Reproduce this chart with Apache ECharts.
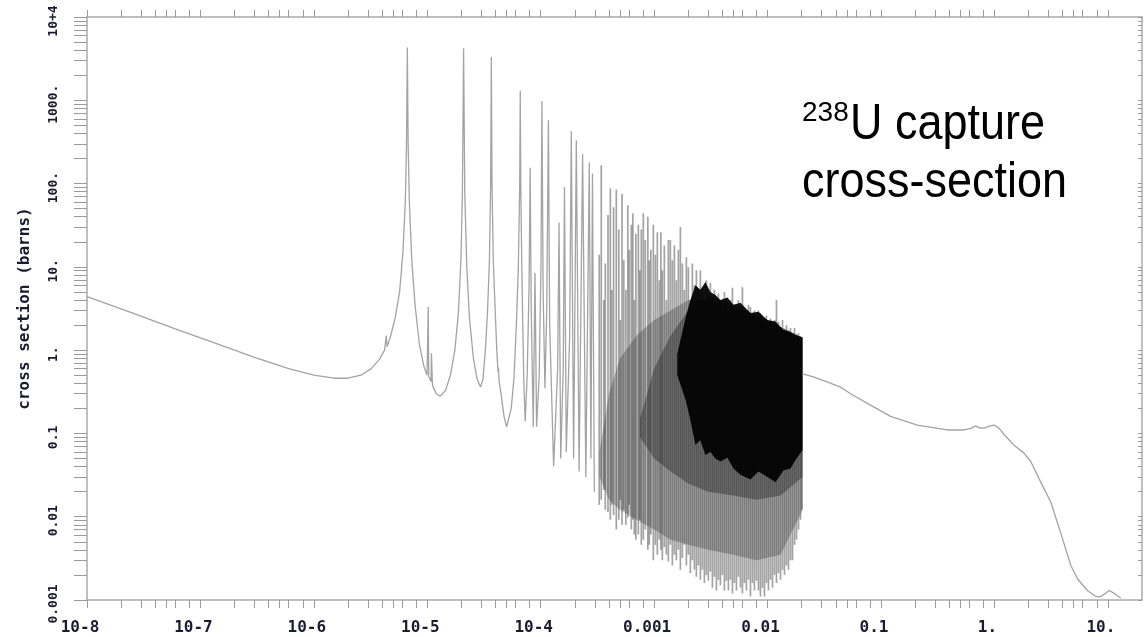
<!DOCTYPE html>
<html><head><meta charset="utf-8">
<script src="https://cdn.jsdelivr.net/npm/echarts@6/dist/echarts.min.js"></script>
<style>html,body{margin:0;padding:0;background:#fff}#c{width:1144px;height:637px}</style>
</head><body><div id="c"></div>
<script>
// ---- tick labels ----
const xTickExps = [-8,-7,-6,-5,-4,-3,-2,-1,0,1];
const xTickLabels = ['10-8','10-7','10-6','10-5','10-4','0.001','0.01','0.1','1.','10.'];
const yTickExps = [-3,-2,-1,0,1,2,3,4];
const yTickLabels = ['0.001','0.01','0.1','1.','10.','100.','1000.','10+4'];
const xMinorMant = [1,2,3,4,5,6,8];
const yMinorMant = [1,2,3,4,5,6,7,8,9];

// ---- low-energy curve with resolved resonances (E in MeV, sigma in barns) ----
const lowE = [1e-8,2.5e-8,6e-8,1e-7,2e-7,3e-7,6e-7,1e-6,1.5e-6,2e-6,2.6e-6,3.2e-6,3.8e-6,4.2e-6,4.35e-6,4.42e-6,4.7e-6,5.2e-6,5.7e-6,6.1e-6,6.4e-6,6.56e-6,6.67e-6,6.78e-6,6.95e-6,7.3e-6,7.8e-6,8.5e-6,9.3e-6,9.95e-6,10.2e-6,10.3e-6,10.8e-6,10.88e-6,11.1e-6,12e-6,13e-6,14.5e-6,16e-6,17.5e-6,18.8e-6,19.8e-6,20.4e-6,20.9e-6,21.4e-6,22.3e-6,23.5e-6,25.5e-6,27.5e-6,29.5e-6,31e-6,32.5e-6,34e-6,35.3e-6,36.2e-6,36.7e-6,37.2e-6,38.2e-6,39.5e-6,41e-6,42e-6,42.4e-6,43e-6,45e-6,47.5e-6,50e-6,52e-6,55e-6,58e-6,61e-6,63.5e-6,65.3e-6,66e-6,66.8e-6,68.5e-6,71e-6,73e-6,76e-6,79e-6,80.7e-6,82.5e-6,86e-6,89e-6,92e-6,97e-6,100.5e-6,102.5e-6,105e-6,109e-6,113e-6,116.9e-6,120e-6,130e-6,141e-6,145e-6,150e-6,158e-6,162e-6,168e-6,180e-6,186e-6,195e-6,206e-6,218e-6,234e-6,250e-6,268e-6,277e-6,286e-6,297e-6];
const lowSigma = [4.4,2.8,1.8,1.4,1.0,0.82,0.6,0.5,0.46,0.46,0.5,0.6,0.78,1.0,1.5,1.1,1.4,2.4,5,15,60,300,4300,300,60,12,3.5,1.2,0.65,0.5,3.3,0.48,0.42,0.92,0.38,0.3,0.28,0.33,0.5,1.0,2.8,12,80,4200,80,10,2.5,0.8,0.45,0.36,0.45,1.0,3,12,100,3300,100,12,3.5,1.0,0.55,0.62,0.42,0.28,0.16,0.12,0.12,0.2,0.45,2,10,100,1300,80,6,0.4,0.14,0.5,6,155,3,0.12,8.5,0.12,0.5,10,980,5,0.35,3,577,2,0.04,0.6,34,0.05,0.6,91,0.06,1.5,429,0.05,331,0.035,226,0.03,179,0.05,132,0.02];

// ---- dense resonance spikes: energy, peak, trough ----
const spikeE = [3.28e-4,3.42e-4,3.60e-4,3.71e-4,3.92e-4,4.11e-4,4.23e-4,4.39e-4,4.64e-4,4.88e-4,5.03e-4,5.21e-4,5.40e-4,5.63e-4,5.86e-4,6.04e-4,6.29e-4,6.49e-4,6.69e-4,6.90e-4,7.26e-4,7.48e-4,7.71e-4,8.03e-4,8.36e-4,8.80e-4,9.07e-4,9.35e-4,9.84e-4,1.025e-3,1.067e-3,1.111e-3,1.146e-3,1.181e-3,1.230e-3,1.282e-3,1.335e-3,1.390e-3,1.447e-3,1.508e-3,1.570e-3,1.635e-3,1.703e-3,1.774e-3,1.847e-3,1.924e-3,2.004e-3,2.087e-3,2.173e-3,2.263e-3,2.357e-3,2.455e-3,2.557e-3,2.663e-3,2.773e-3,2.888e-3,3.008e-3,3.133e-3,3.263e-3,3.398e-3,3.540e-3,3.686e-3,3.839e-3,3.998e-3,4.164e-3,4.336e-3,4.516e-3,4.704e-3,4.900e-3,5.102e-3,5.315e-3,5.535e-3,5.764e-3,6.003e-3,6.252e-3,6.511e-3,6.782e-3,7.063e-3,7.356e-3,7.660e-3,7.980e-3,8.310e-3,8.655e-3,9.015e-3,9.39e-3,9.78e-3,1.018e-2,1.061e-2,1.105e-2,1.151e-2,1.198e-2,1.248e-2,1.300e-2,1.354e-2,1.410e-2,1.468e-2,1.529e-2,1.593e-2,1.659e-2,1.728e-2,1.799e-2,1.874e-2,1.952e-2,2.012e-2];
const spikeTop = [14,166,4.0,11,42,88,5.3,52,85,28,2.3,75,12,5.3,55,16,32,44,4.0,25,32,9.1,28,44,21,40,12,16,32,14,26,6.9,26,9.1,18,4.0,21,21,12,18,6.9,16,30,11,5.3,13,9.9,4.0,11,6.0,9.1,5.3,9.1,5.6,4.0,6.9,4.6,6.4,4.0,5.3,3.5,4.8,4.0,3.0,5.0,4.0,3.0,4.0,5.6,3.5,3.0,4.0,2.9,5.7,3.0,2.6,3.5,3.3,2.6,3.0,2.4,3.0,2.8,2.3,2.4,2.6,2.2,2.4,2.0,2.3,4.0,2.2,1.9,2.3,1.8,2.0,1.74,1.85,1.6,1.85,1.55,1.6,1.47,1.42];
const spikeBot = [0.0139,0.016,0.021,0.0121,0.0114,0.0092,0.0139,0.0105,0.0070,0.0092,0.016,0.0080,0.0121,0.0080,0.0097,0.0139,0.0070,0.0092,0.0061,0.0053,0.0061,0.0092,0.0046,0.0053,0.0070,0.0040,0.0046,0.0061,0.0030,0.0046,0.0035,0.0053,0.0040,0.0030,0.0043,0.0035,0.0029,0.0046,0.0026,0.0035,0.0030,0.0040,0.0023,0.0032,0.0046,0.0026,0.0035,0.0021,0.0030,0.0023,0.0019,0.0026,0.00175,0.0023,0.0016,0.0020,0.0017,0.0022,0.0014,0.0019,0.0013,0.00175,0.0015,0.0020,0.0013,0.0017,0.0013,0.00175,0.0012,0.0016,0.0013,0.0019,0.0014,0.0012,0.0016,0.0013,0.00175,0.0011,0.0016,0.0013,0.0017,0.0013,0.0011,0.0014,0.0011,0.0016,0.0013,0.00175,0.0014,0.0020,0.0016,0.0021,0.00175,0.0023,0.0020,0.0026,0.0023,0.0030,0.0030,0.0046,0.0053,0.0070,0.0092,0.0121];

// ---- grey underlay of the dense region ----
const greyE = [3.3e-4,4.0e-4,5.0e-4,7.0e-4,1.0e-3,1.4e-3,2.0e-3,3.0e-3,5.0e-3,8.0e-3,1.3e-2,2.03e-2];
const greyTop = [0.06,0.3,0.8,1.5,2.3,3.0,4.0,4.0,3.5,2.6,1.9,1.42];
const greyBot = [0.03,0.016,0.012,0.0092,0.007,0.0053,0.0046,0.004,0.0035,0.003,0.0035,0.012];

// ---- dark-grey middle of the dense region ----
const darkE = [7.5e-4,1.0e-3,1.4e-3,2.0e-3,3.0e-3,5.0e-3,8.0e-3,1.3e-2,2.03e-2];
const darkTop = [0.15,0.6,1.5,3.0,4.5,3.5,2.6,1.9,1.42];
const darkBot = [0.09,0.05,0.035,0.025,0.02,0.018,0.016,0.018,0.03];

// ---- black core of the dense region ----
const coreE = [1.6e-3,1.9e-3,2.087e-3,2.310e-3,2.557e-3,2.830e-3,3.133e-3,3.468e-3,3.839e-3,4.425e-3,5.0e-3,5.764e-3,7.063e-3,8.31e-3,9.98e-3,1.174e-2,1.381e-2,1.593e-2,1.763e-2,2.03e-2];
const coreTop = [0.9,2.5,4.0,6.0,5.3,6.6,5.0,4.6,4.0,4.3,3.5,3.7,2.8,2.9,2.3,2.2,1.74,1.65,1.52,1.42];
const coreBot = [0.5,0.25,0.145,0.073,0.083,0.055,0.060,0.05,0.046,0.051,0.038,0.032,0.028,0.035,0.030,0.026,0.036,0.038,0.048,0.063];

// ---- high-energy smooth tail ----
const highE = [0.0203,0.025,0.033,0.044,0.054,0.08,0.1215,0.209,0.385,0.539,0.62,0.684,0.73,0.81,0.9,0.992,1.1,1.216,1.49,1.825,2.09,2.56,3.14,3.85,4.72,5.4,6.62,7.84,8.68,9.5,10.27,11.4,13.0];
const highSigma = [0.52,0.48,0.42,0.36,0.3,0.22,0.16,0.126,0.11,0.11,0.115,0.123,0.117,0.116,0.122,0.126,0.115,0.097,0.072,0.058,0.046,0.026,0.015,0.0063,0.0026,0.0018,0.00129,0.0011,0.0011,0.0012,0.0013,0.0012,0.00105];

const X_MIN = 1e-8, X_MAX = 20, Y_MIN = 1e-3, Y_MAX = 1e4;

function tickExps(minD, maxD, mant, maxVal) {
  const out = [];
  for (let d = minD; d <= maxD; d++) for (const m of mant) {
    const v = m * Math.pow(10, d);
    if (v <= maxVal * 1.000001) out.push(Math.log10(m) + d);
  }
  return out;
}
const xTicks = tickExps(-8, 1, xMinorMant, 10);
const yTicks = tickExps(-3, 4, yMinorMant, Y_MAX);

function bandRenderer(E, top, bot, fill) {
  return function (params, api) {
    if (params.dataIndex !== 0) return null;
    const pts = [];
    for (let i = 0; i < E.length; i++) pts.push(api.coord([E[i], top[i]]));
    for (let i = E.length - 1; i >= 0; i--) pts.push(api.coord([E[i], bot[i]]));
    return { type: 'polygon', shape: { points: pts }, style: { fill: fill } };
  };
}

const labelColor = '#1b1b30';
const monoFont = '"DejaVu Sans Mono", "Liberation Mono", monospace';
const axisGrey = '#aaaaaa';
const tickGrey = '#9a9a9a';

const chart = echarts.init(document.getElementById('c'));
chart.setOption({
  animation: false,
  backgroundColor: '#ffffff',
  grid: { left: 87, top: 17, width: 1055, height: 583 },
  xAxis: [
    { type: 'log', logBase: 10, min: X_MIN, max: X_MAX, position: 'bottom',
      axisLine: { show: true, onZero: false, lineStyle: { color: axisGrey, width: 1.5 } },
      axisTick: { show: false }, axisLabel: { show: false }, splitLine: { show: false } },
    { type: 'value', min: -8, max: Math.log10(X_MAX), position: 'bottom',
      axisLine: { show: false, onZero: false },
      axisTick: { show: true, customValues: xTicks, length: 8, lineStyle: { color: tickGrey, width: 1 } },
      axisLabel: { show: true, customValues: xTickExps, margin: 20, padding: [0, 14, 0, 0],
        fontFamily: monoFont, fontWeight: 'bold', fontSize: 16, color: labelColor,
        showMinLabel: true, showMaxLabel: true,
        formatter: v => xTickLabels[xTickExps.indexOf(Math.round(v))] },
      splitLine: { show: false } },
    { type: 'value', min: -8, max: Math.log10(X_MAX), position: 'top',
      axisLine: { show: true, onZero: false, lineStyle: { color: axisGrey, width: 1.5 } },
      axisTick: { show: true, customValues: xTicks, length: 7, lineStyle: { color: tickGrey, width: 1 } },
      axisLabel: { show: false }, splitLine: { show: false } }
  ],
  yAxis: [
    { type: 'log', logBase: 10, min: Y_MIN, max: Y_MAX, position: 'left',
      axisLine: { show: true, onZero: false, lineStyle: { color: axisGrey, width: 1.5 } },
      axisTick: { show: false }, axisLabel: { show: false }, splitLine: { show: false } },
    { type: 'value', min: -3, max: 4, position: 'left',
      name: 'cross section (barns)', nameLocation: 'middle', nameRotate: 90, nameGap: 54,
      nameTextStyle: { fontFamily: monoFont, fontWeight: 'bold', fontSize: 16, color: labelColor },
      axisLine: { show: false, onZero: false },
      axisTick: { show: true, customValues: yTicks, length: 13, lineStyle: { color: tickGrey, width: 1 } },
      axisLabel: { show: true, customValues: yTickExps, rotate: 90, margin: 27, padding: [0, 8, 0, 0],
        fontFamily: monoFont, fontWeight: 'bold', fontSize: 13, color: labelColor,
        showMinLabel: true, showMaxLabel: true,
        formatter: v => yTickLabels[yTickExps.indexOf(Math.round(v))] },
      splitLine: { show: false } },
    { type: 'value', min: -3, max: 4, position: 'right',
      axisLine: { show: true, onZero: false, lineStyle: { color: axisGrey, width: 1.5 } },
      axisTick: { show: true, inside: true, customValues: yTicks, length: 4, lineStyle: { color: tickGrey, width: 1 } },
      axisLabel: { show: false }, splitLine: { show: false } }
  ],
  series: [
    { type: 'custom', name: 'grey', xAxisIndex: 0, yAxisIndex: 0, z: 1, silent: true,
      data: greyE.map((e, i) => [e, greyTop[i], greyBot[i]]),
      renderItem: bandRenderer(greyE, greyTop, greyBot, '#c2c2c2') },
    { type: 'custom', name: 'dark', xAxisIndex: 0, yAxisIndex: 0, z: 2, silent: true,
      data: darkE.map((e, i) => [e, darkTop[i], darkBot[i]]),
      renderItem: bandRenderer(darkE, darkTop, darkBot, 'rgba(0,0,0,0.3)') },
    { type: 'custom', name: 'core', xAxisIndex: 0, yAxisIndex: 0, z: 3, silent: true,
      data: coreE.map((e, i) => [e, coreTop[i], coreBot[i]]),
      renderItem: bandRenderer(coreE, coreTop, coreBot, 'rgba(0,0,0,0.93)') },
    { type: 'custom', name: 'spikes', xAxisIndex: 0, yAxisIndex: 0, z: 4, silent: true,
      data: spikeE.map((e, i) => [e, spikeTop[i], spikeBot[i]]),
      renderItem: function (params, api) {
        const p1 = api.coord([api.value(0), api.value(1)]);
        const p2 = api.coord([api.value(0), api.value(2)]);
        return { type: 'line', shape: { x1: p1[0], y1: p1[1], x2: p2[0], y2: p2[1] },
          style: { stroke: 'rgba(0,0,0,0.36)', lineWidth: 1.7 } };
      } },
    { type: 'line', name: 'low', xAxisIndex: 0, yAxisIndex: 0, z: 5, showSymbol: false, silent: true,
      data: lowE.map((e, i) => [e, lowSigma[i]]),
      lineStyle: { color: '#a3a3a3', width: 1.3 } },
    { type: 'line', name: 'high', xAxisIndex: 0, yAxisIndex: 0, z: 5, showSymbol: false, silent: true,
      data: highE.map((e, i) => [e, highSigma[i]]),
      lineStyle: { color: '#a3a3a3', width: 1.3 } }
  ],
  graphic: [
    { type: 'text', x: 802, y: 99, style: { text: '238', fontSize: 28,
        fontFamily: '"Liberation Sans", Arial, sans-serif', fill: '#000', verticalAlign: 'top' } },
    { type: 'text', x: 850, y: 100, scaleY: 1.12, style: { text: 'U capture', fontSize: 45,
        fontFamily: '"Liberation Sans", Arial, sans-serif', fill: '#000', verticalAlign: 'top' } },
    { type: 'text', x: 802, y: 158, scaleY: 1.12, style: { text: 'cross-section', fontSize: 45,
        fontFamily: '"Liberation Sans", Arial, sans-serif', fill: '#000', verticalAlign: 'top' } }
  ]
});
</script>
</body></html>
